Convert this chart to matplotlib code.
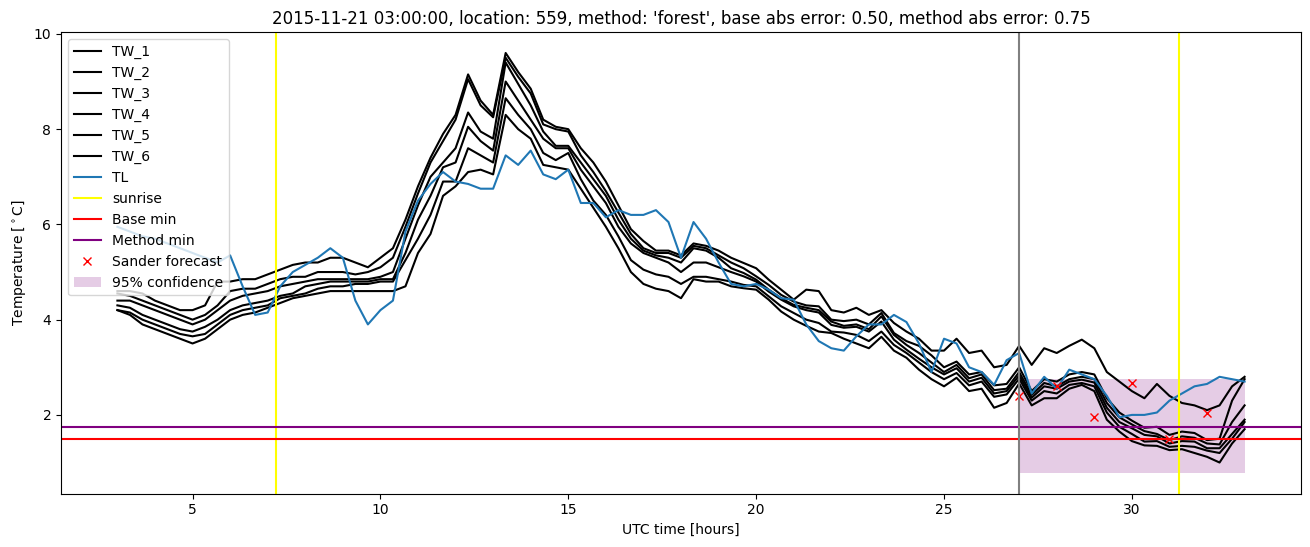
import numpy as np
import matplotlib
matplotlib.use("Agg")
import matplotlib.pyplot as plt

# ----- Data (20 min steps, 03:00 -> 33:00 UTC) -----
hours = np.linspace(3, 33, 91)

TW_1 = [4.6, 4.6, 4.55, 4.4, 4.3, 4.2, 4.2, 4.3, 4.8, 4.8, 4.85, 4.85, 4.95, 5.05, 5.15, 5.2, 5.2, 5.3, 5.3, 5.2, 5.1, 5.3, 5.5,
        6.1, 6.8, 7.4, 7.9, 8.3, 9.15, 8.6, 8.3, 9.6, 9.2, 8.85, 8.2, 8.05, 8.0, 7.6, 7.3, 6.9, 6.4, 5.9, 5.65, 5.45, 5.45, 5.35,
        5.6, 5.55, 5.45, 5.3, 5.19, 5.08, 4.84, 4.63, 4.42, 4.63, 4.6, 4.2, 4.15, 4.25, 4.1, 4.2, 3.93, 3.75, 3.6, 3.35, 3.35, 3.6,
        3.3, 3.35, 3.0, 3.05, 3.45, 3.05, 3.4, 3.3, 3.45, 3.58, 3.4, 2.9, 2.7, 2.5, 2.35, 2.65, 2.4, 2.25, 2.2, 2.1, 2.2, 2.6, 2.8]
TW_2 = [4.55, 4.5, 4.4, 4.3, 4.2, 4.1, 4.0, 4.1, 4.3, 4.6, 4.65, 4.65, 4.75, 4.85, 4.9, 4.9, 5.0, 5.0, 5.0, 4.95, 5.0, 5.1, 5.3,
        5.95, 6.65, 7.3, 7.75, 8.2, 9.05, 8.5, 8.25, 9.5, 9.1, 8.75, 8.1, 8.0, 7.95, 7.45, 7.1, 6.7, 6.25, 5.8, 5.5, 5.4, 5.4, 5.3,
        5.55, 5.5, 5.35, 5.2, 5.08, 4.91, 4.73, 4.52, 4.38, 4.3, 4.28, 4.0, 3.97, 4.0, 3.9, 4.14, 3.72, 3.55, 3.45, 3.25, 3.0, 3.12,
        2.85, 2.9, 2.62, 2.65, 3.0, 2.5, 2.75, 2.7, 2.85, 2.9, 2.85, 2.35, 2.05, 1.88, 1.73, 1.75, 1.58, 1.65, 1.62, 1.47, 1.5, 2.3, 2.75]
TW_3 = [4.4, 4.4, 4.3, 4.2, 4.1, 4.0, 3.9, 4.0, 4.2, 4.4, 4.5, 4.55, 4.6, 4.7, 4.75, 4.8, 4.85, 4.85, 4.85, 4.85, 4.85, 4.9, 5.0,
        5.7, 6.4, 7.0, 7.3, 7.6, 8.35, 7.95, 7.8, 9.4, 8.95, 8.5, 7.95, 7.65, 7.65, 7.3, 6.95, 6.6, 6.1, 5.7, 5.45, 5.35, 5.3, 5.2,
        5.5, 5.45, 5.3, 5.08, 4.98, 4.84, 4.63, 4.45, 4.31, 4.25, 4.2, 3.96, 3.87, 3.9, 3.8, 4.07, 3.68, 3.47, 3.3, 3.1, 2.9, 3.05,
        2.77, 2.85, 2.52, 2.55, 2.9, 2.42, 2.67, 2.6, 2.75, 2.8, 2.75, 2.25, 1.95, 1.8, 1.66, 1.6, 1.47, 1.55, 1.52, 1.4, 1.38, 1.85, 2.2]
TW_4 = [4.3, 4.25, 4.1, 4.0, 3.9, 3.8, 3.75, 3.85, 4.0, 4.2, 4.3, 4.35, 4.4, 4.5, 4.55, 4.7, 4.75, 4.8, 4.8, 4.8, 4.8, 4.85, 4.85,
        5.4, 6.1, 6.6, 7.2, 7.3, 8.05, 7.75, 7.55, 9.0, 8.6, 8.2, 7.8, 7.6, 7.6, 7.15, 6.8, 6.45, 5.95, 5.6, 5.4, 5.3, 5.2, 5.0,
        5.2, 5.2, 5.1, 5.0, 4.91, 4.8, 4.59, 4.42, 4.28, 4.2, 4.15, 3.89, 3.83, 3.85, 3.75, 3.96, 3.58, 3.37, 3.18, 3.0, 2.85, 2.98,
        2.7, 2.78, 2.45, 2.5, 2.83, 2.36, 2.6, 2.55, 2.7, 2.74, 2.68, 2.15, 1.85, 1.72, 1.58, 1.55, 1.4, 1.45, 1.44, 1.3, 1.3, 1.6, 1.9]
TW_5 = [4.2, 4.15, 4.0, 3.9, 3.8, 3.7, 3.65, 3.7, 3.9, 4.1, 4.2, 4.25, 4.3, 4.45, 4.5, 4.55, 4.65, 4.7, 4.7, 4.75, 4.75, 4.8, 4.8,
        5.25, 5.7, 6.2, 6.9, 6.9, 7.6, 7.45, 7.3, 8.65, 8.3, 8.0, 7.5, 7.35, 7.5, 6.95, 6.5, 6.2, 5.75, 5.25, 5.05, 4.95, 4.9, 4.75,
        4.9, 4.9, 4.85, 4.8, 4.73, 4.7, 4.49, 4.28, 4.14, 4.0, 3.93, 3.75, 3.73, 3.68, 3.55, 3.75, 3.47, 3.3, 3.1, 2.9, 2.75, 2.88,
        2.62, 2.7, 2.38, 2.43, 2.76, 2.3, 2.5, 2.45, 2.63, 2.67, 2.6, 2.05, 1.75, 1.6, 1.44, 1.45, 1.33, 1.35, 1.33, 1.25, 1.2, 1.5, 1.85]
TW_6 = [4.2, 4.1, 3.9, 3.8, 3.7, 3.6, 3.5, 3.6, 3.8, 4.0, 4.1, 4.15, 4.25, 4.35, 4.45, 4.5, 4.55, 4.6, 4.6, 4.6, 4.6, 4.6, 4.6,
        4.7, 5.4, 5.8, 6.6, 6.8, 7.1, 7.15, 7.05, 8.3, 8.0, 7.8, 7.25, 7.2, 7.15, 6.75, 6.35, 5.95, 5.5, 5.0, 4.75, 4.65, 4.6, 4.45,
        4.85, 4.8, 4.8, 4.7, 4.66, 4.63, 4.42, 4.17, 4.0, 3.87, 3.75, 3.72, 3.6, 3.5, 3.4, 3.64, 3.35, 3.2, 2.95, 2.75, 2.6, 2.78,
        2.5, 2.55, 2.15, 2.25, 2.66, 2.2, 2.35, 2.35, 2.55, 2.63, 2.5, 1.9, 1.65, 1.45, 1.36, 1.35, 1.26, 1.28, 1.2, 1.12, 1.0, 1.4, 1.7]
TL = [5.95, 5.85, 5.75, 5.7, 5.6, 5.5, 5.4, 5.3, 5.2, 5.35, 4.7, 4.1, 4.15, 4.7, 5.0, 5.15, 5.3, 5.5, 5.3, 4.4, 3.9, 4.2, 4.4,
      5.85, 6.5, 6.85, 7.1, 6.9, 6.85, 6.75, 6.75, 7.45, 7.25, 7.55, 7.05, 6.95, 7.15, 6.45, 6.45, 6.15, 6.3, 6.2, 6.2, 6.3, 6.05, 5.3,
      6.05, 5.7, 5.2, 4.75, 4.7, 4.75, 4.63, 4.45, 4.42, 3.9, 3.55, 3.4, 3.35, 3.65, 3.9, 3.9, 4.1, 3.95, 3.5, 2.9, 3.6, 3.5,
      3.0, 2.9, 2.63, 3.15, 3.3, 2.45, 2.8, 2.55, 2.95, 2.85, 2.75, 2.4, 1.95, 2.0, 2.0, 2.05, 2.3, 2.45, 2.6, 2.65, 2.8, 2.75, 2.7]

tw_series = [TW_1, TW_2, TW_3, TW_4, TW_5, TW_6]

sunrise = [7.22, 31.25]
forecast_time = 27
base_min = 1.5
method_min = 1.75

# Sander forecast (hourly)
sander_hours = [27, 28, 29, 30, 31, 32]
sander_vals = [2.4, 2.6, 1.95, 2.67, 1.49, 2.05]

# 95% confidence band
conf_hours = [27, 33]
conf_low = [0.79, 0.79]
conf_high = [2.76, 2.76]

# ----- Plot -----
fig = plt.figure(figsize=(13.1, 5.47), dpi=100)
ax = fig.add_axes([0.0466, 0.0978, 0.9465, 0.8437])

for i, s in enumerate(tw_series, 1):
    ax.plot(hours, s, color="black", label=f"TW_{i}")
ax.plot(hours, TL, color="C0", label="TL")

ax.axvline(sunrise[0], color="yellow", label="sunrise")
ax.axvline(sunrise[1], color="yellow")
ax.axhline(base_min, color="red", label="Base min")
ax.axhline(method_min, color="purple", label="Method min")
ax.plot(sander_hours, sander_vals, "x", color="red", label="Sander forecast")
ax.fill_between(conf_hours, conf_low, conf_high, color="purple", alpha=0.2, linewidth=0,
                label="95% confidence")
ax.axvline(forecast_time, color="grey")

ax.set_title("2015-11-21 03:00:00, location: 559, method: 'forest', base abs error: 0.50, "
             "method abs error: 0.75")
ax.set_xlabel("UTC time [hours]")
ax.set_ylabel(r"Temperature [$^\circ$C]")
ax.legend(loc="upper left")

fig.savefig("out.png", dpi=100)
